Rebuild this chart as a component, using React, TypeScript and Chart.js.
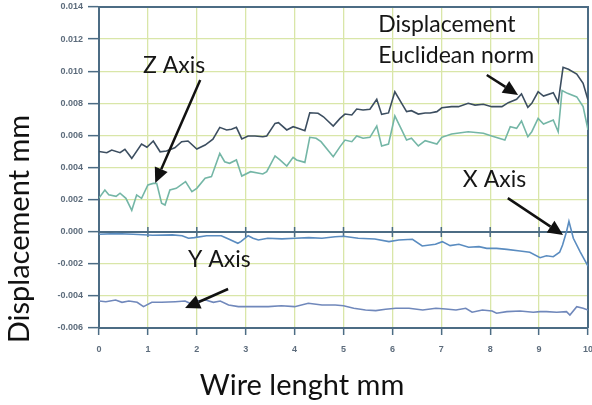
import React, { useEffect, useRef } from "react";
import { Chart, registerables } from "chart.js";

Chart.register(...registerables);

// ---------- data ----------
const normX = [0, 0.16, 0.26, 0.43, 0.53, 0.67, 0.87, 0.98, 1.11, 1.25, 1.38, 1.55, 1.69, 1.82, 2.0, 2.17, 2.33, 2.47, 2.61, 2.71, 2.81, 2.92, 3.05, 3.19, 3.35, 3.43, 3.6, 3.67, 3.84, 3.97, 4.07, 4.21, 4.31, 4.48, 4.59, 4.79, 4.93, 5.03, 5.17, 5.27, 5.4, 5.54, 5.68, 5.78, 5.92, 6.05, 6.19, 6.29, 6.39, 6.53, 6.67, 6.77, 6.91, 7.01, 7.21, 7.35, 7.55, 7.69, 7.86, 8.03, 8.24, 8.37, 8.54, 8.64, 8.77, 8.85, 8.98, 9.09, 9.29, 9.39, 9.49, 9.6, 9.77, 9.9, 10];
const normY = [0.005, 0.00492, 0.00509, 0.00492, 0.00513, 0.00457, 0.00546, 0.00526, 0.00565, 0.00498, 0.00503, 0.00523, 0.00561, 0.00565, 0.00515, 0.0054, 0.00576, 0.0065, 0.00634, 0.00638, 0.0065, 0.00578, 0.00596, 0.00596, 0.00592, 0.00596, 0.00675, 0.00679, 0.00634, 0.00654, 0.00644, 0.00629, 0.00741, 0.00738, 0.00716, 0.00658, 0.00706, 0.00733, 0.00727, 0.00764, 0.00758, 0.00763, 0.00825, 0.00731, 0.0074, 0.00872, 0.008, 0.00748, 0.00754, 0.00733, 0.0074, 0.0074, 0.00748, 0.00772, 0.00779, 0.00779, 0.008, 0.00789, 0.00794, 0.00779, 0.00779, 0.00804, 0.00825, 0.00858, 0.00775, 0.008, 0.00872, 0.00845, 0.00866, 0.00806, 0.01024, 0.01012, 0.00982, 0.00924, 0.0082];

const zX = [0, 0.12, 0.2, 0.35, 0.43, 0.55, 0.67, 0.77, 0.87, 1.0, 1.11, 1.18, 1.28, 1.35, 1.45, 1.58, 1.77, 1.9, 2.0, 2.17, 2.3, 2.47, 2.57, 2.67, 2.81, 2.92, 3.1, 3.35, 3.43, 3.6, 3.7, 3.84, 3.97, 4.04, 4.21, 4.31, 4.44, 4.54, 4.79, 4.93, 5.03, 5.17, 5.27, 5.4, 5.54, 5.68, 5.78, 5.92, 6.05, 6.19, 6.29, 6.39, 6.53, 6.67, 6.91, 7.01, 7.21, 7.55, 7.86, 8.03, 8.3, 8.41, 8.54, 8.64, 8.77, 8.85, 8.98, 9.09, 9.29, 9.39, 9.47, 9.58, 9.77, 9.9, 10];
const zY = [0.0021, 0.0026, 0.0023, 0.0022, 0.0024, 0.00208, 0.00133, 0.00229, 0.00208, 0.00291, 0.00301, 0.00301, 0.00177, 0.00166, 0.0026, 0.0027, 0.00312, 0.00249, 0.0027, 0.00333, 0.00343, 0.00488, 0.00436, 0.00426, 0.00447, 0.00347, 0.00374, 0.0036, 0.00374, 0.00472, 0.00447, 0.00409, 0.00463, 0.00447, 0.00432, 0.00588, 0.00582, 0.00561, 0.00467, 0.0053, 0.00571, 0.00561, 0.00596, 0.00582, 0.00588, 0.00658, 0.00534, 0.00546, 0.00721, 0.00634, 0.00571, 0.00582, 0.00534, 0.00567, 0.00546, 0.00588, 0.00609, 0.00623, 0.00613, 0.00596, 0.00571, 0.00654, 0.00644, 0.0069, 0.00592, 0.00623, 0.00706, 0.00671, 0.00696, 0.00623, 0.0088, 0.00862, 0.0084, 0.00779, 0.00634];

const xAxX = [0, 0.35, 0.7, 1.1, 1.5, 1.7, 1.83, 1.95, 2.2, 2.5, 2.65, 2.84, 2.9, 3.05, 3.15, 3.26, 3.45, 3.74, 4.01, 4.29, 4.56, 4.83, 5.0, 5.3, 5.64, 5.93, 6.13, 6.41, 6.61, 6.88, 7.02, 7.18, 7.36, 7.56, 7.77, 7.93, 8.13, 8.34, 8.61, 8.81, 9.02, 9.15, 9.29, 9.42, 9.48, 9.56, 9.61, 9.7, 9.84, 10];
const xAxY = [-0.00016, -0.00012, -0.00016, -0.00022, -0.0002, -0.00025, -0.00041, -0.00037, -0.00025, -0.00025, -0.00045, -0.00072, -0.00062, -0.00025, -0.00041, -0.00052, -0.00041, -0.00045, -0.00041, -0.00037, -0.00041, -0.00031, -0.00028, -0.00041, -0.00045, -0.00062, -0.00052, -0.00047, -0.00089, -0.00078, -0.00062, -0.00087, -0.00078, -0.00097, -0.00093, -0.00104, -0.00104, -0.0011, -0.0012, -0.00128, -0.00162, -0.0015, -0.00156, -0.00128, -0.00083, 0, 0.00065, -0.00041, -0.00125, -0.00215];

const yAxX = [0, 0.14, 0.34, 0.47, 0.61, 0.78, 0.91, 1.08, 1.28, 1.56, 1.76, 1.86, 2.0, 2.18, 2.34, 2.48, 2.65, 2.85, 3.12, 3.46, 3.73, 4.0, 4.28, 4.56, 4.83, 5.0, 5.21, 5.45, 5.66, 5.86, 6.07, 6.34, 6.62, 6.89, 7.09, 7.3, 7.5, 7.63, 7.84, 8.04, 8.13, 8.34, 8.61, 8.88, 9.02, 9.15, 9.36, 9.56, 9.63, 9.77, 9.9, 10];
const yAxY = [-0.00432, -0.00436, -0.00426, -0.0044, -0.00432, -0.0044, -0.00467, -0.0044, -0.0044, -0.00436, -0.00432, -0.00446, -0.00432, -0.00426, -0.0044, -0.00432, -0.00457, -0.00467, -0.00467, -0.00467, -0.00461, -0.00467, -0.00446, -0.00457, -0.00457, -0.00461, -0.00477, -0.00488, -0.00492, -0.00483, -0.00477, -0.00477, -0.00488, -0.00477, -0.00482, -0.00488, -0.00477, -0.00502, -0.00488, -0.00494, -0.00508, -0.00498, -0.00494, -0.00502, -0.00498, -0.00498, -0.00502, -0.00498, -0.00519, -0.00467, -0.00477, -0.00488];

const seriesNames = ["Displacement Euclidean norm", "Z Axis", "X Axis", "Y Axis"];

const xMin = 0;
const xMax = 10;
const xStep = 1;
const yMin = -0.006;
const yMax = 0.014;
const yStep = 0.002;

const xTitle = "Wire lenght mm";
const yTitle = "Displacement mm";

// annotation texts, anchored in data units (left, baseline)
const noteTexts = ["Z Axis", "Displacement", "Euclidean norm", "X Axis", "Y Axis"];
const noteX = [0.9, 5.71, 5.71, 7.44, 1.82];
const noteY = [0.00989, 0.01246, 0.01051, 0.0028, -0.00218];

// arrows in data units: from (x0,y0) to tip (x1,y1)
const arrowX0 = [2.07, 7.93, 8.36, 2.64];
const arrowY0 = [0.00945, 0.00976, 0.00209, -0.00357];
const arrowX1 = [1.15, 8.57, 9.49, 1.76];
const arrowY1 = [0.00303, 0.00852, -0.0002, -0.00476];

// ---------- styles ----------
const AXIS_COLOR = "#4c6c84";
const GRID_COLOR = "#d9e6a8";
const TICK_TEXT = "#5d6c7c";
const LINE_COLORS = ["#3c4e60", "#74b6a6", "#5a8cc0", "#7088bb"];
const TEXT_FONT = "Lato, 'Open Sans', sans-serif";

const toPts = (xs: number[], ys: number[]) => xs.map((x, i) => ({ x, y: ys[i] }));

const framePlugin = {
  id: "frame",
  beforeDatasetsDraw(chart: any) {
    const { ctx, chartArea, scales } = chart;
    const x = scales.x;
    const y = scales.y;
    ctx.save();
    ctx.strokeStyle = AXIS_COLOR;
    ctx.lineWidth = 2;
    ctx.beginPath();
    ctx.moveTo(chartArea.left, chartArea.top);
    ctx.lineTo(chartArea.right, chartArea.top);
    ctx.lineTo(chartArea.right, chartArea.bottom);
    ctx.stroke();
    const y0 = Math.round(y.getPixelForValue(0));
    ctx.beginPath();
    ctx.moveTo(chartArea.left, y0);
    ctx.lineTo(chartArea.right, y0);
    ctx.stroke();
    ctx.lineWidth = 1.5;
    ctx.beginPath();
    x.ticks.forEach((t: any) => {
      const px = x.getPixelForValue(t.value);
      ctx.moveTo(px, y0 - 5);
      ctx.lineTo(px, y0 + 5);
    });
    ctx.stroke();
    ctx.restore();
  },
};

const notesPlugin = {
  id: "notes",
  afterDatasetsDraw(chart: any) {
    const { ctx, scales } = chart;
    const x = scales.x;
    const y = scales.y;
    ctx.save();
    // arrows
    ctx.strokeStyle = "#111";
    ctx.fillStyle = "#111";
    ctx.lineWidth = 2.5;
    for (let i = 0; i < arrowX0.length; i++) {
      const ax = x.getPixelForValue(arrowX0[i]);
      const ay = y.getPixelForValue(arrowY0[i]);
      const bx = x.getPixelForValue(arrowX1[i]);
      const by = y.getPixelForValue(arrowY1[i]);
      const ang = Math.atan2(by - ay, bx - ax);
      const headLen = 15;
      const headHalf = 7;
      const baseX = bx - headLen * Math.cos(ang);
      const baseY = by - headLen * Math.sin(ang);
      ctx.beginPath();
      ctx.moveTo(ax, ay);
      ctx.lineTo(baseX, baseY);
      ctx.stroke();
      ctx.beginPath();
      ctx.moveTo(bx, by);
      ctx.lineTo(baseX + headHalf * Math.sin(ang), baseY - headHalf * Math.cos(ang));
      ctx.lineTo(baseX - headHalf * Math.sin(ang), baseY + headHalf * Math.cos(ang));
      ctx.closePath();
      ctx.fill();
    }
    // labels
    ctx.fillStyle = "#161616";
    ctx.font = `23px ${TEXT_FONT}`;
    ctx.textAlign = "left";
    ctx.textBaseline = "alphabetic";
    for (let i = 0; i < noteTexts.length; i++) {
      ctx.fillText(noteTexts[i], x.getPixelForValue(noteX[i]), y.getPixelForValue(noteY[i]));
    }
    ctx.restore();
  },
  afterDraw(chart: any) {
    const { ctx, chartArea } = chart;
    ctx.save();
    ctx.fillStyle = "#111";
    ctx.font = `29px ${TEXT_FONT}`;
    ctx.textAlign = "center";
    ctx.textBaseline = "middle";
    // x title
    ctx.fillText(xTitle, chartArea.left + 203, chartArea.bottom + 58);
    // y title
    ctx.translate(20, chartArea.top + 222);
    ctx.rotate(-Math.PI / 2);
    ctx.fillText(yTitle, 0, 0);
    ctx.restore();
  },
};

export default function App() {
  const canvasRef = useRef<HTMLCanvasElement | null>(null);

  useEffect(() => {
    const canvas = canvasRef.current;
    if (!canvas) return;
    const line = (i: number, xs: number[], ys: number[]) => ({
      label: seriesNames[i],
      data: toPts(xs, ys),
      borderColor: LINE_COLORS[i],
      backgroundColor: LINE_COLORS[i],
      borderWidth: 1.6,
      pointRadius: 0,
      tension: 0,
      fill: false,
    });
    const chart = new Chart(canvas, {
      type: "line",
      data: {
        datasets: [
          line(0, normX, normY),
          line(1, zX, zY),
          line(2, xAxX, xAxY),
          line(3, yAxX, yAxY),
        ],
      },
      options: {
        animation: false,
        responsive: false,
        maintainAspectRatio: false,
        layout: { padding: { top: 7, right: 4, left: 0, bottom: 0 } },
        plugins: { legend: { display: false }, tooltip: { enabled: false }, title: { display: false } },
        scales: {
          x: {
            type: "linear",
            min: xMin,
            max: xMax,
            ticks: {
              stepSize: xStep,
              color: TICK_TEXT,
              padding: 9,
              maxRotation: 0,
              font: { family: "'Liberation Sans', Arial, sans-serif", size: 9, weight: "bold" },
            },
            grid: { color: GRID_COLOR, tickColor: AXIS_COLOR, tickLength: 7, lineWidth: 1.3, tickWidth: 1.5 },
            border: { color: AXIS_COLOR, width: 2 },
            afterFit: (s: any) => {
              s.height = 77;
              s.paddingLeft = 0;
              s.paddingRight = 0;
            },
          },
          y: {
            type: "linear",
            min: yMin,
            max: yMax,
            ticks: {
              stepSize: yStep,
              color: TICK_TEXT,
              padding: 5,
              callback: (v: any) => Number(v).toFixed(3),
              font: { family: "'Liberation Sans', Arial, sans-serif", size: 9, weight: "bold" },
            },
            grid: { color: GRID_COLOR, tickColor: AXIS_COLOR, tickLength: 11, lineWidth: 1.3, tickWidth: 1.5 },
            border: { color: AXIS_COLOR, width: 2 },
            afterFit: (s: any) => {
              s.width = 99;
              s.paddingTop = 0;
              s.paddingBottom = 0;
            },
          },
        },
      },
      plugins: [framePlugin, notesPlugin],
    } as any);
    return () => chart.destroy();
  }, []);

  return (
    <div style={{ position: "absolute", left: 0, top: 0, width: 592, height: 405, background: "#ffffff" }}>
      <canvas ref={canvasRef} width={592} height={405} style={{ display: "block" }} />
    </div>
  );
}
